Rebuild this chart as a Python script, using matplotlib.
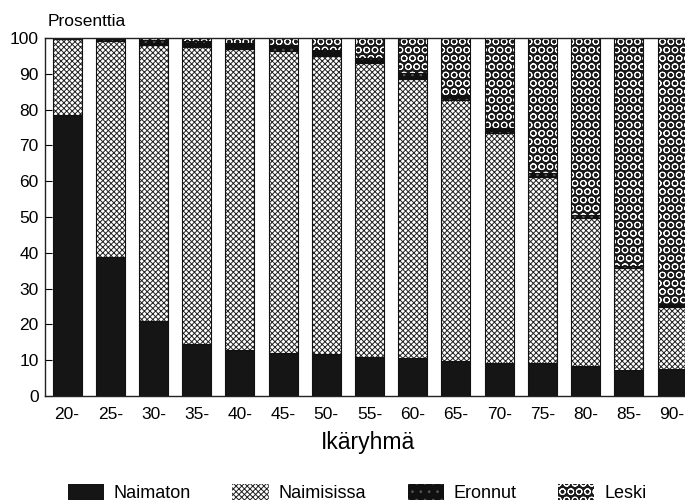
#!/usr/bin/env python3
"""
Siviilisääty ikäryhmittäin, pinottu pylväskuvio.
"""

import matplotlib
matplotlib.use("Agg")
import matplotlib.pyplot as plt
from matplotlib.patches import Patch

# --------------------------------- DATA ---------------------------------------
age_groups = ["20-", "25-", "30-", "35-", "40-", "45-", "50-", "55-",
              "60-", "65-", "70-", "75-", "80-", "85-", "90-"]
naimaton = [78.5, 38.8, 20.9, 14.6, 12.8, 12.1, 11.6, 11.0,
            10.7, 9.9, 9.3, 9.1, 8.3, 7.3, 7.6]
naimisissa = [21.1, 60.4, 77.1, 83.0, 84.1, 84.3, 83.4, 81.9,
              77.8, 72.8, 64.1, 52.2, 41.3, 28.4, 17.2]
eronnut = [0.3, 0.7, 1.5, 1.6, 1.6, 1.6, 1.6, 1.4,
           1.6, 1.4, 1.4, 1.1, 1.0, 0.6, 0.8]
leski = [0.1, 0.1, 0.5, 0.8, 1.5, 2.0, 3.4, 5.7,
         9.9, 15.9, 25.2, 37.6, 49.4, 63.7, 74.4]
y_ticks = list(range(0, 101, 10))
series_names = ["Naimaton", "Naimisissa", "Eronnut", "Leski"]
# --------------------------------- DATA ---------------------------------------

plt.rcParams["font.family"] = ["Liberation Sans", "DejaVu Sans"]
plt.rcParams["hatch.linewidth"] = 0.7

# face, hatch, hatch colour
styles = [("#151515", "", "#151515"),
          ("white", "xxxxxx", "#222222"),
          ("#101010", "..", "#555555"),
          ("#1a1a1a", "OO", "white")]

fig = plt.figure(figsize=(6.85, 5.04), dpi=100)
ax = fig.add_axes([45 / 685, 1 - 396 / 504, 1 - 45 / 685, (396 - 38) / 504])

x = list(range(len(age_groups)))
bottom = [0.0] * len(x)
width = 0.67
for values, (face, hatch, hcol) in zip([naimaton, naimisissa, eronnut, leski],
                                       styles):
    ax.bar(x, values, width, bottom=bottom, color=face, hatch=hatch,
           edgecolor=hcol, linewidth=0)
    ax.bar(x, values, width, bottom=bottom, fill=False,
           edgecolor="#111111", linewidth=0.8)
    bottom = [b + v for b, v in zip(bottom, values)]

ax.set_xlim(-0.51, 14.3)
ax.set_ylim(0, 100)
ax.set_yticks(y_ticks)
ax.set_xticks(x)
ax.set_xticklabels(age_groups)
ax.tick_params(axis="y", direction="in", length=5, labelsize=12.5, pad=4.5)
ax.tick_params(axis="x", length=0, labelsize=12.5, pad=8)
ax.spines["right"].set_visible(False)
for side in ("left", "top", "bottom"):
    ax.spines[side].set_linewidth(1.0)
    ax.spines[side].set_color("#222222")

ax.set_xlabel("Ikäryhmä", fontsize=16.5)
ax.xaxis.set_label_coords(0.505, -0.098)
fig.text(48 / 685, 1 - 22 / 504, "Prosenttia", fontsize=12.5, va="center")

handles = []
for name, (face, hatch, hcol) in zip(series_names, styles):
    handles.append(Patch(facecolor=face, hatch=hatch, edgecolor=hcol,
                         linewidth=0, label=name))
fig.legend(handles=handles, loc="center", ncol=4, frameon=False,
           bbox_to_anchor=(357 / 685, 1 - 493 / 504), fontsize=13,
           handlelength=2.0, handleheight=1.0, columnspacing=2.3,
           handletextpad=0.55, borderpad=0.1)

fig.savefig("out.png", dpi=100)
